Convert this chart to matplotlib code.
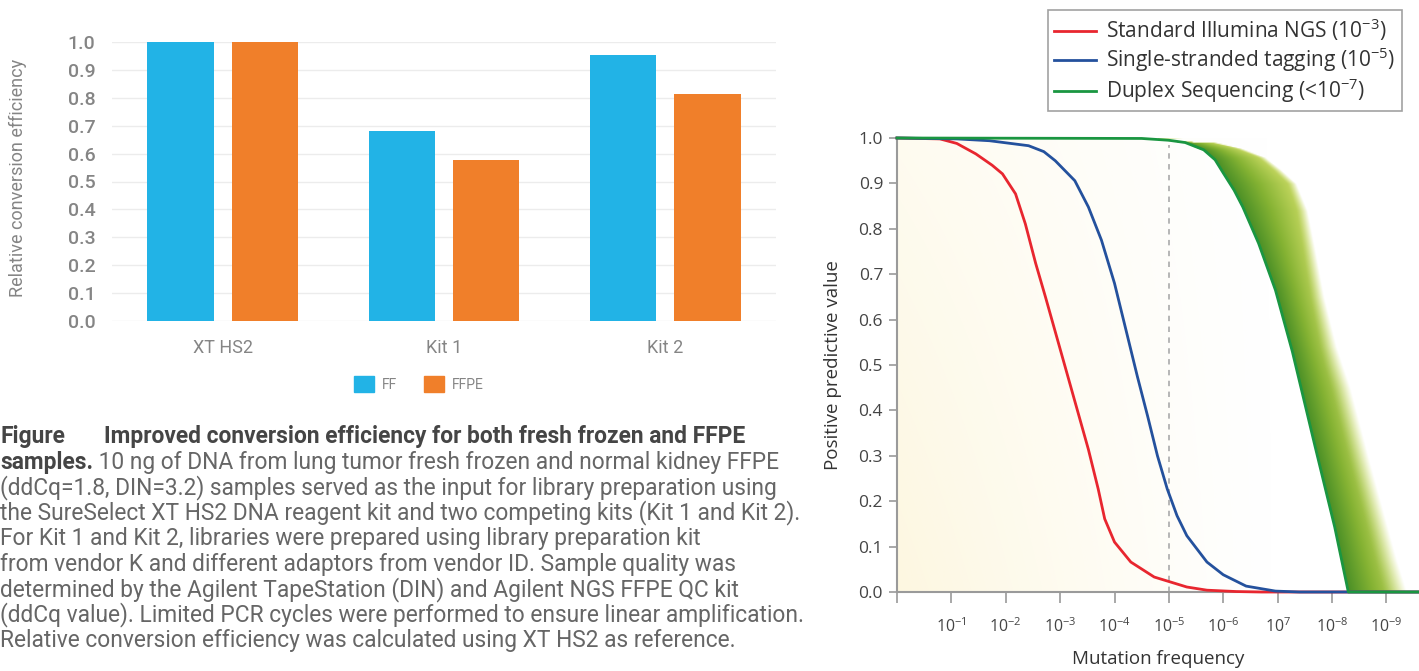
import numpy as np
import matplotlib
matplotlib.use("Agg")
import matplotlib.pyplot as plt
from matplotlib.patches import Patch
from matplotlib.lines import Line2D

# ---- left panel data ----
kits = ["XT HS2", "Kit 1", "Kit 2"]
ff = [1.0, 0.68, 0.955]
ffpe = [1.0, 0.577, 0.815]

caption = [
    "(ddCq=1.8, DIN=3.2) samples served as the input for library preparation using",
    "the SureSelect XT HS2 DNA reagent kit and two competing kits (Kit 1 and Kit 2).",
    "For Kit 1 and Kit 2, libraries were prepared using library preparation kit",
    "from vendor K and different adaptors from vendor ID. Sample quality was",
    "determined by the Agilent TapeStation (DIN) and Agilent NGS FFPE QC kit",
    "(ddCq value). Limited PCR cycles were performed to ensure linear amplification.",
    "Relative conversion efficiency was calculated using XT HS2 as reference.",
]

# ---- right panel data (x = decade exponent of mutation frequency) ----
std_x = [0, 0.79, 1.1, 1.45, 1.75, 1.94, 2.18, 2.36, 2.55, 2.73, 2.97, 3.21, 3.52, 3.70,
         3.82, 4.0, 4.3, 4.73, 5.33, 5.7, 6.24, 6.7, 9.6]
std_y = [1.0, 0.998, 0.988, 0.965, 0.94, 0.921, 0.877, 0.811, 0.724, 0.65, 0.548, 0.446, 0.314,
         0.227, 0.161, 0.11, 0.066, 0.033, 0.011, 0.004, 0.001, 0.0, 0.0]
sst_x = [0, 1.1, 1.7, 2.42, 2.7, 2.91, 3.27, 3.52, 3.76, 4.0, 4.24, 4.42, 4.61, 4.79, 4.97,
         5.15, 5.33, 5.7, 6.0, 6.42, 6.96, 7.4, 9.6]
sst_y = [1.0, 0.998, 0.994, 0.983, 0.97, 0.95, 0.906, 0.848, 0.775, 0.68, 0.563, 0.475, 0.387,
         0.30, 0.227, 0.168, 0.124, 0.066, 0.038, 0.013, 0.002, 0.0, 0.0]
dup_x = [0, 4.5, 5.0, 5.3, 5.64, 5.85, 6.0, 6.2, 6.36, 6.65, 6.96, 7.27, 7.69, 8.05, 8.3, 9.6]
dup_y = [1.0, 0.999, 0.995, 0.99, 0.974, 0.952, 0.923, 0.885, 0.848, 0.768, 0.665, 0.53, 0.32,
         0.143, 0.0, 0.0]
# right edge of the shaded duplex band
band_x = [5.0, 5.87, 6.3, 6.73, 7.02, 7.29, 7.5, 7.64, 7.82, 8.05, 8.3, 8.65, 9.15, 9.33, 9.6]
band_y = [0.995, 0.99, 0.978, 0.958, 0.93, 0.90, 0.84, 0.76, 0.65, 0.54, 0.45, 0.29, 0.07, 0.0, 0.0]
xtick_pos = list(range(10))
xtick_lab = ["", r"10$^{-1}$", r"10$^{-2}$", r"10$^{-3}$", r"10$^{-4}$", r"10$^{-5}$",
             r"10$^{-6}$", r"10$^{7}$", r"10$^{-8}$", r"10$^{-9}$"]
series_names = [r"Standard Illumina NGS (10$^{-3}$)", r"Single-stranded tagging (10$^{-5}$)",
                r"Duplex Sequencing (<10$^{-7}$)"]
series_cols = ["#e8262f", "#24519d", "#1a9641"]

W, H = 1419, 671
fig = plt.figure(figsize=(W / 100, H / 100), dpi=100)
plt.rcParams["mathtext.fontset"] = "custom"
plt.rcParams["mathtext.rm"] = "Open Sans"

# ================= left bar chart =================
grey = "#858585"
ax1 = fig.add_axes([112 / W, 1 - 321 / H, 664 / W, 279 / H])
x = np.arange(len(kits))
ax1.bar(x - 0.19, ff, 0.30, color="#22b3e6", zorder=3)
ax1.bar(x + 0.19, ffpe, 0.30, color="#f07f2a", zorder=3)
ax1.set_xlim(-0.5, 2.5)
ax1.set_ylim(0, 1.0)
ax1.set_yticks(np.arange(0, 1.01, 0.1))
ax1.set_yticklabels([f"{v:.1f}" for v in np.arange(0, 1.01, 0.1)],
                    fontfamily="Roboto", fontsize=14, color=grey, fontweight="medium")
ax1.set_xticks(x)
ax1.set_xticklabels(kits, fontfamily="Roboto", fontsize=13, color=grey)
ax1.tick_params(length=0, pad=12)
ax1.tick_params(axis="x", pad=13)
ax1.grid(axis="y", color="#ececec", lw=1, zorder=0)
for s in ax1.spines.values():
    s.set_visible(False)
fig.text(18 / W, 1 - 178 / H, "Relative conversion efficiency", fontfamily="Roboto",
         fontsize=13, color=grey, rotation=90, ha="center", va="center")

fig.legend(handles=[Patch(color="#22b3e6", label="FF"), Patch(color="#f07f2a", label="FFPE")],
           loc="center", bbox_to_anchor=(419 / W, 1 - 384 / H), ncol=2, frameon=False,
           prop={"family": "Roboto", "size": 10}, labelcolor=grey,
           handlelength=1.45, handleheight=1.45, columnspacing=1.9, handletextpad=0.6)

# caption
cap_col = "#666666"
ys = [437, 462, 488, 513, 539, 564, 590, 615, 640]
fs = 16.4
fig.text(0, 1 - ys[0] / H, "Figure", fontfamily="Roboto", fontsize=fs, fontweight="bold",
         color="#454545", va="center")
fig.text(104 / W, 1 - ys[0] / H, "Improved conversion efficiency for both fresh frozen and FFPE",
         fontfamily="Roboto", fontsize=fs, fontweight="bold", color="#454545", va="center")
t_b = fig.text(0, 1 - ys[1] / H, "samples.", fontfamily="Roboto", fontsize=fs,
               fontweight="bold", color="#454545", va="center")
r = fig.canvas.get_renderer()
bb = t_b.get_window_extent(r)
fig.text(bb.x1 / W, 1 - ys[1] / H, " 10 ng of DNA from lung tumor fresh frozen and normal kidney FFPE",
         fontfamily="Roboto", fontsize=fs, color=cap_col, va="center")
for yy, line in zip(ys[2:], caption):
    fig.text(0, 1 - yy / H, line, fontfamily="Roboto", fontsize=fs, color=cap_col, va="center")

# ================= right line chart =================
ax2 = fig.add_axes([897 / W, 1 - 592 / H, 522 / W, 454 / H])
ax2.set_xlim(0, 9.6)
ax2.set_ylim(0, 1.0)

# cream background wash
gx = np.linspace(0, 9.6, 300)
gy = np.linspace(0, 1, 100)
GX, GY = np.meshgrid(gx, gy)
alpha = np.clip(1 - GX / 7.0, 0, 1) ** 1.2 * (0.5 + 0.5 * (1 - GY))
bg = np.zeros(GX.shape + (4,))
bg[..., 0], bg[..., 1], bg[..., 2] = 0.99, 0.95, 0.80
bg[..., 3] = alpha * 0.6
ax2.imshow(bg, extent=[0, 9.6, 0, 1], origin="lower", aspect="auto", zorder=0,
           interpolation="bilinear")

# green band gradient between duplex line and band edge
bx = np.linspace(4.8, 9.6, 500)
by = np.linspace(0, 1, 400)
BX, BY = np.meshgrid(bx, by)
xg = np.interp(BY, dup_y[::-1], dup_x[::-1])
xr = np.interp(BY, band_y[::-1], band_x[::-1])
t = (BX - xg) / np.maximum(xr - xg, 1e-6)
c0 = np.array([0.29, 0.56, 0.15])
c1 = np.array([0.52, 0.70, 0.20])
c2 = np.array([0.78, 0.85, 0.38])
tt = np.clip(t, 0, 1)[..., None]
col = np.where(tt < 0.45, c0 + (c1 - c0) * (tt / 0.45), c1 + (c2 - c1) * ((tt - 0.45) / 0.55))
band = np.zeros(BX.shape + (4,))
band[..., :3] = col
fade_start = 0.62 + 0.28 * np.clip((BY - 0.5) / 0.4, 0, 1)
a = np.where((t >= 0) & (t <= 1.05),
             1.0 - np.clip((t - fade_start) / (1.05 - fade_start), 0, 1) ** 1.5, 0.0)
band[..., 3] = a
ax2.imshow(band, extent=[4.8, 9.6, 0, 1], origin="lower", aspect="auto", zorder=1,
           interpolation="bilinear")

ax2.axvline(5, 0, 0.985, color="#b0b0b0", lw=1.3, ls=(0, (3, 3)), zorder=1.5)
for xs, ys_, c in zip([std_x, sst_x, dup_x], [std_y, sst_y, dup_y], series_cols):
    ax2.plot(xs, ys_, color=c, lw=2.0, zorder=3, clip_on=False, solid_joinstyle="round")

ax2.set_yticks(np.arange(0, 1.01, 0.1))
ax2.set_yticklabels([f"{v:.1f}" for v in np.arange(0, 1.01, 0.1)],
                    fontfamily="Open Sans", fontsize=12.5, color="#444444")
ax2.set_xticks(xtick_pos)
ax2.set_xticklabels(xtick_lab, fontfamily="Open Sans", fontsize=11.5, color="#444444")
ax2.tick_params(axis="y", length=6, width=1.2, color="#9a9a9a", pad=4)
ax2.tick_params(axis="x", length=8, width=1.2, color="#9a9a9a", pad=10)
for s in ["top", "right"]:
    ax2.spines[s].set_visible(False)
for s in ["left", "bottom"]:
    ax2.spines[s].set_color("#9a9a9a")
    ax2.spines[s].set_linewidth(1.5)
ax2.set_ylabel("Positive predictive value", fontfamily="Open Sans", fontsize=13.5,
               color="#333333", labelpad=12)
ax2.set_xlabel("Mutation frequency", fontfamily="Open Sans", fontsize=13.5,
               color="#333333", labelpad=10)

handles = [Line2D([], [], color=c, lw=2) for c in series_cols]
leg = fig.legend(handles, series_names, loc="upper left",
                 bbox_to_anchor=(1048 / W, 1 - 10 / H), frameon=True, fancybox=False,
                 prop={"family": "Open Sans", "size": 15}, labelcolor="#333333",
                 handlelength=2.0, handletextpad=0.5, labelspacing=0.12, borderpad=0.3,
                 borderaxespad=0)
leg.get_frame().set_edgecolor("#8a8a8a")
leg.get_frame().set_linewidth(1.2)

fig.savefig("out.png", dpi=100)
